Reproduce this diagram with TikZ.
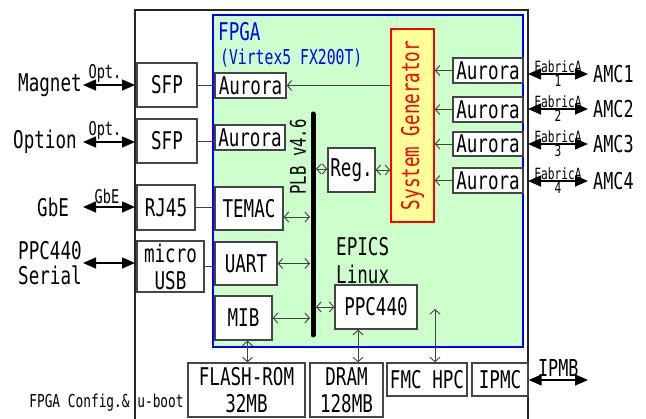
\documentclass[tikz,border=0pt]{standalone}
\usepackage{fontspec}
\setmainfont{DejaVu Sans Mono}[FakeStretch=0.72]
\usetikzlibrary{arrows.meta,calc}
\definecolor{boxc}{HTML}{454545}
\definecolor{linec}{HTML}{404040}
\definecolor{fpgafill}{HTML}{CCFFCC}
\definecolor{sgfill}{HTML}{FFFF99}
\newcommand\fsM{\fontsize{24.4}{27}\selectfont}
\newcommand\fsA{\fontsize{23.3}{26}\selectfont}
\newcommand\fsV{\fontsize{20.5}{23}\selectfont}
\newcommand\fsP{\fontsize{21.7}{24}\selectfont}
\newcommand\fsO{\fontsize{18.9}{21}\selectfont}
\newcommand\fsF{\fontsize{15.5}{17}\selectfont}
\newcommand\fsC{\fontsize{17.8}{20}\selectfont}
\begin{document}
\begin{tikzpicture}[x=1pt,y=-1pt,
  box/.style={draw=boxc, line width=1.3pt, fill=white, inner sep=0pt, font=\fsM, align=center},
  fpgabox/.style={draw=blue, line width=1.6pt, fill=fpgafill, inner sep=0pt},
  sgbox/.style={draw=red, line width=1.6pt, fill=sgfill, inner sep=0pt},
  txt/.style={inner sep=0pt, font=\fsM},
  conn/.style={line width=0.9pt, draw=linec},
  bi/.style={conn, {Straight Barb[length=4.5pt,width=10pt]}-{Straight Barb[length=4.5pt,width=10pt]}},
  uni/.style={conn, -{Straight Barb[length=4.5pt,width=10pt]}},
  ext/.style={line width=1.5pt, draw=black, {Triangle[length=13pt,width=11pt]}-{Triangle[length=13pt,width=11pt]}}
]
\useasboundingbox (0,0) rectangle (646,419);
\fill[white] (0,0) rectangle (646,419);

% board outline
\coordinate (bL) at (135,10);
\coordinate (bR) at (528,10);
\draw[line width=1.5pt, draw=black!85] (135,419) -- (bL) -- (bR) -- (528,419);

% FPGA
\node[fpgabox, minimum width=310, minimum height=332] (fpga) at (368,181) {};
\node[anchor=west, inner sep=0pt, font=\fsM, text=blue] (fpgat) at (218,32) {FPGA};
\node[anchor=west, inner sep=0pt, font=\fsV, text=blue] (virtex) at (220,58) {(Virtex5 FX200T)};

% left boxes
\node[box, minimum width=60, minimum height=44] (sfp1) at (167,85) {SFP};
\node[box, minimum width=60, minimum height=44] (sfp2) at (167,141) {SFP};
\node[box, minimum width=58, minimum height=45] (rj45) at (166,207.5) {RJ45};
\node[box, minimum width=67, minimum height=51] (usb) at (170.5,266.5) {micro\\USB};

% inner FPGA boxes
\node[box, minimum width=71, minimum height=25] (aurL1) at (250.5,85.5) {Aurora};
\node[box, minimum width=70, minimum height=25] (aurL2) at (250,137.5) {Aurora};
\node[box, minimum width=68, minimum height=43] (temac) at (249,208.5) {TEMAC};
\node[box, minimum width=62, minimum height=43] (uart) at (246,263.5) {UART};
\node[box, minimum width=57, minimum height=44] (mib) at (243.5,318) {MIB};
\node[box, minimum width=47, minimum height=44] (reg) at (351.5,170) {Reg.};
\node[box, minimum width=82, minimum height=44] (ppc) at (376,307) {PPC440};
\node[sgbox, minimum width=43, minimum height=193] (sysgen) at (412.5,125.5) {};
\node[rotate=90, inner sep=0pt, font=\fsM, text=red] (sgtext) at (sysgen.center) {System Generator};
\node[box, minimum width=70, minimum height=25] (aurR1) at (488,70.5) {Aurora};
\node[box, minimum width=70, minimum height=25] (aurR2) at (488,109.5) {Aurora};
\node[box, minimum width=70, minimum height=24] (aurR3) at (488,144) {Aurora};
\node[box, minimum width=70, minimum height=25] (aurR4) at (488,180.5) {Aurora};

\node[txt, anchor=west] (epics) at (336,247) {EPICS};
\node[txt, anchor=west] (linux) at (336,274) {Linux};

% bottom boxes
\node[box, minimum width=117, minimum height=54] (flash) at (246.5,390) {FLASH-ROM\\32MB};
\node[box, minimum width=73, minimum height=54] (dram) at (346.5,390) {DRAM\\128MB};
\node[box, minimum width=80, minimum height=33] (fmc) at (427,379.5) {FMC HPC};
\node[box, minimum width=56, minimum height=33] (ipmc) at (500,379.5) {IPMC};

% PLB bus
\coordinate (plbT) at (313,114);
\coordinate (plbB) at (313,335);
\draw[line width=5pt, line cap=round] (plbT) -- (plbB);
\node[rotate=90, inner sep=0pt, font=\fsP] (plb) at (298,157) {PLB v4.6};
\coordinate (busL) at (310,0);
\coordinate (busR) at (316,0);
\coordinate (bT) at (310,217);
\coordinate (bReg) at (316,169);

% internal connectors
\draw[conn] (sfp1.east) -- (sfp1.east -| aurL1.west);
\draw[conn] (sfp2.east) -- (sfp2.east -| aurL2.west);
\draw[conn] (rj45.east) -- (rj45.east -| temac.west);
\draw[conn] (usb.east) -- (usb.east -| uart.west);

\draw[bi] (bReg) -- (bReg -| reg.west);
\draw[bi] (reg.east) -- (reg.east -| sysgen.west);
\draw[bi] (temac.east |- bT) -- (bT);
\draw[bi] (uart.east) -- (uart.east -| busL);
\draw[bi] (mib.east) -- (mib.east -| busL);
\draw[bi] (ppc.west -| busR) -- (ppc.west);

\draw[bi] ([xshift=4pt]mib.south) -- ([xshift=4pt]mib.south |- flash.north);
\draw[bi] ([xshift=-18pt]ppc.south) -- ([xshift=-18pt]ppc.south |- dram.north);
\coordinate (fmcT) at (435,309);
\draw[bi] (fmcT) -- (fmcT |- fmc.north);

\foreach \i in {1,2,3,4} {
  \draw[uni] (aurR\i.west) -- (aurR\i.west -| sysgen.east);
}
\draw[uni] (sysgen.west |- aurL1.east) -- (aurL1.east);

% left external
\node[txt, anchor=west] (magnet) at (18,85) {Magnet};
\node[txt, anchor=west] (option) at (13,142) {Option};
\node[txt, anchor=west] (gbe) at (37,207) {GbE};
\node[txt, anchor=west, align=left, font=\fontsize{24.4}{24.5}\selectfont] (ppcser) at (18,263) {PPC440\\Serial};
\coordinate (mL) at (83,85);
\coordinate (oL) at (83,142);
\coordinate (gL) at (83,207);
\coordinate (pL) at (83,263);
\draw[ext] (mL) -- (mL -| bL) node[midway, above, inner sep=2pt, font=\fsO, xshift=-4pt] {Opt.};
\draw[ext] (oL) -- (oL -| bL) node[midway, above, inner sep=2pt, font=\fsO, xshift=-4pt] {Opt.};
\draw[ext] (gL) -- (gL -| bL) node[midway, above, inner sep=2pt, font=\fsO, xshift=-2pt] {GbE};
\draw[ext] (pL) -- (pL -| bL);

% right external
\foreach \i/\y in {1/74,2/109,3/144,4/181} {
  \node[inner sep=0pt, font=\fsA, anchor=west] (amc\i) at (593,\y) {AMC\i};
  \draw[ext] (amc\i.west -| bR) -- ([xshift=-5pt]amc\i.west)
    node[midway, above, inner sep=1pt, font=\fsF] {FabricA}
    node[midway, below, inner sep=0.5pt, font=\fsF] {\i};
}
\coordinate (ipmbR) at (588,380);
\draw[ext] (ipmc.east |- ipmbR) -- (ipmbR) node[midway, above, inner sep=3pt, font=\fsA] {IPMB};

\node[inner sep=0pt, font=\fsC] (cfg) at (106.5,403) {FPGA Config.\& u-boot};
\end{tikzpicture}
\end{document}
